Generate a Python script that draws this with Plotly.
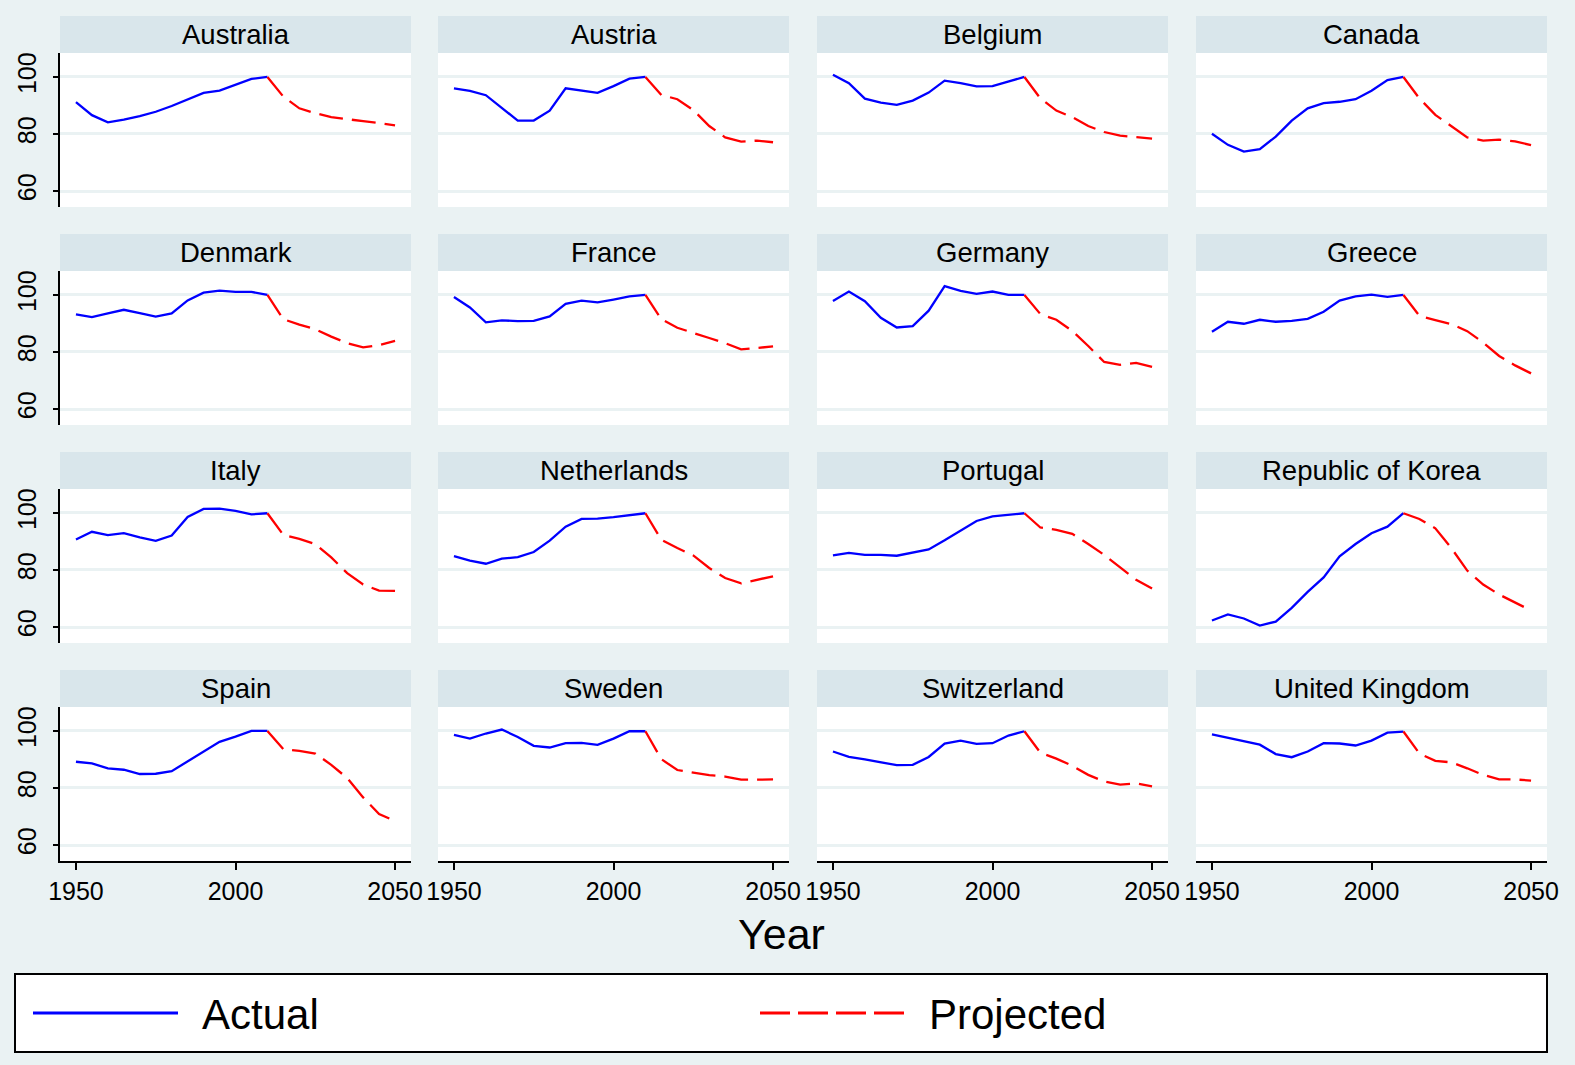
import plotly.graph_objects as go

W, H = 1575, 1065

countries = ["Australia", "Austria", "Belgium", "Canada",
             "Denmark", "France", "Germany", "Greece",
             "Italy", "Netherlands", "Portugal", "Republic of Korea",
             "Spain", "Sweden", "Switzerland", "United Kingdom"]

years_actual = [1950, 1955, 1960, 1965, 1970, 1975, 1980, 1985, 1990, 1995, 2000, 2005, 2010]
years_proj = [2010, 2015, 2020, 2025, 2030, 2035, 2040, 2045, 2050]

australia_actual = [91.2, 86.6, 84.1, 85.0, 86.3, 87.8, 89.8, 92.1, 94.4, 95.2, 97.3, 99.3, 100.0]
australia_proj = [100.0, 93.1, 89.0, 87.3, 85.9, 85.3, 84.5, 83.8, 83.0]
austria_actual = [96.0, 95.1, 93.6, 89.0, 84.7, 84.7, 88.2, 96.0, 95.2, 94.4, 96.8, 99.4, 100.0]
austria_proj = [100.0, 93.7, 92.2, 88.4, 82.8, 78.8, 77.3, 77.7, 77.1]
belgium_actual = [100.8, 97.8, 92.4, 91.0, 90.2, 91.7, 94.5, 98.7, 97.8, 96.7, 96.8, 98.4, 100.0]
belgium_proj = [100.0, 92.5, 88.2, 85.9, 82.8, 80.7, 79.4, 78.8, 78.4]
canada_actual = [80.1, 76.2, 73.8, 74.7, 79.1, 84.7, 89.0, 90.8, 91.3, 92.2, 95.2, 98.9, 100.0]
canada_proj = [100.0, 92.5, 86.7, 82.6, 78.8, 77.7, 78.0, 77.4, 76.1]
denmark_actual = [93.2, 92.2, 93.5, 94.8, 93.6, 92.4, 93.5, 98.1, 100.8, 101.5, 101.1, 101.1, 100.0]
denmark_proj = [100.0, 91.5, 89.6, 88.0, 85.4, 83.1, 81.6, 82.4, 83.9]
france_actual = [99.3, 95.6, 90.4, 91.1, 90.8, 90.9, 92.5, 96.9, 98.0, 97.4, 98.4, 99.5, 100.0]
france_proj = [100.0, 91.5, 88.5, 86.8, 84.9, 83.1, 80.9, 81.4, 82.0]
germany_actual = [97.9, 101.2, 97.8, 92.0, 88.6, 89.1, 94.5, 103.1, 101.4, 100.4, 101.2, 100.0, 100.0]
germany_proj = [100.0, 93.3, 91.3, 87.4, 82.1, 76.5, 75.5, 76.2, 74.8]
greece_actual = [87.1, 90.6, 89.9, 91.3, 90.6, 90.9, 91.6, 94.1, 98.0, 99.5, 100.1, 99.3, 100.0]
greece_proj = [100.0, 92.7, 91.2, 89.8, 87.3, 83.3, 78.6, 75.3, 72.5]
italy_actual = [90.7, 93.4, 92.2, 92.9, 91.4, 90.2, 92.1, 98.6, 101.4, 101.5, 100.7, 99.5, 99.9]
italy_proj = [99.9, 92.3, 90.9, 89.1, 84.4, 78.9, 74.9, 72.8, 72.7]
netherlands_actual = [84.9, 83.3, 82.2, 84.0, 84.5, 86.3, 90.3, 95.2, 97.9, 98.0, 98.5, 99.3, 99.9]
netherlands_proj = [99.9, 90.6, 87.7, 85.1, 80.7, 77.2, 75.3, 76.6, 77.8]
portugal_actual = [85.1, 86.0, 85.3, 85.3, 85.0, 86.1, 87.2, 90.4, 93.9, 97.2, 98.8, 99.4, 99.9]
portugal_proj = [99.9, 94.9, 94.1, 92.7, 89.1, 85.3, 80.9, 76.6, 73.5]
korea_actual = [62.3, 64.4, 63.0, 60.5, 61.9, 66.7, 72.3, 77.4, 84.8, 89.1, 92.9, 95.2, 99.9]
korea_proj = [99.9, 97.9, 94.6, 87.7, 79.8, 74.9, 71.4, 68.5, 65.8]
spain_actual = [89.2, 88.6, 86.9, 86.4, 84.9, 85.0, 85.9, 89.3, 92.7, 96.2, 98.0, 100.0, 100.0]
spain_proj = [100.0, 93.6, 93.0, 92.1, 88.1, 83.5, 76.7, 70.9, 68.4]
sweden_actual = [98.6, 97.3, 99.1, 100.5, 97.9, 94.8, 94.2, 95.7, 95.8, 95.1, 97.3, 99.9, 99.9]
sweden_proj = [99.9, 90.1, 86.3, 85.5, 84.5, 84.0, 82.9, 82.9, 83.0]
switzerland_actual = [92.8, 90.9, 90.0, 89.0, 88.0, 88.1, 90.9, 95.6, 96.6, 95.5, 95.7, 98.4, 99.9]
switzerland_proj = [99.9, 92.4, 90.3, 87.8, 84.6, 82.3, 81.2, 81.6, 80.6]
uk_actual = [98.8, 97.6, 96.2, 95.2, 91.9, 90.8, 92.8, 95.7, 95.6, 94.9, 96.6, 99.4, 99.8]
uk_proj = [99.8, 92.1, 89.5, 89.0, 86.9, 84.6, 83.0, 83.0, 82.6]

actual_series = [australia_actual, austria_actual, belgium_actual, canada_actual,
                 denmark_actual, france_actual, germany_actual, greece_actual,
                 italy_actual, netherlands_actual, portugal_actual, korea_actual,
                 spain_actual, sweden_actual, switzerland_actual, uk_actual]
proj_series = [australia_proj, austria_proj, belgium_proj, canada_proj,
               denmark_proj, france_proj, germany_proj, greece_proj,
               italy_proj, netherlands_proj, portugal_proj, korea_proj,
               spain_proj, sweden_proj, switzerland_proj, uk_proj]

y_ticks = [60, 80, 100]
x_ticks = [1950, 2000, 2050]
x_tick_labels = ["1950", "2000", "2050"]

FONT = "Liberation Sans, Arial, sans-serif"
BG = "#EAF2F3"
STRIP = "#D9E6EB"
GRID = "#EAF2F3"


def px(x):
    return x / W


def py(y):
    return 1 - y / H


col_left = [60, 438, 817, 1196]
col_w = 351
row_top = [53, 271, 489, 707]
row_h = 154
strip_h = 37

fig = go.Figure()
layout = dict(
    width=W, height=H,
    margin=dict(l=0, r=0, t=0, b=0, pad=0, autoexpand=False),
    paper_bgcolor=BG, plot_bgcolor="white",
    showlegend=False,
    font=dict(family=FONT, color="black"),
)
shapes = []
annotations = []

for i, name in enumerate(countries):
    r, c = divmod(i, 4)
    n = i + 1
    xa = "x" if n == 1 else f"x{n}"
    ya = "y" if n == 1 else f"y{n}"
    fig.add_trace(go.Scatter(x=years_actual, y=actual_series[i], mode="lines",
                             line=dict(color="#0000FF", width=2.3),
                             xaxis=xa, yaxis=ya, name="Actual"))
    fig.add_trace(go.Scatter(x=years_proj, y=proj_series[i], mode="lines",
                             line=dict(color="#FF0000", width=2.3, dash="24px,9px"),
                             xaxis=xa, yaxis=ya, name="Projected"))
    x0, x1 = col_left[c], col_left[c] + col_w
    y0, y1 = row_top[r], row_top[r] + row_h
    bottom = (r == 3)
    left = (c == 0)
    layout["xaxis" if n == 1 else f"xaxis{n}"] = dict(
        domain=[px(x0), px(x1)], anchor=ya, range=[1945, 2055],
        showgrid=False, zeroline=False, automargin=False,
        showline=bottom, linecolor="black", linewidth=1.5,
        ticks="outside" if bottom else "", ticklen=7, tickwidth=1.5, tickcolor="black",
        tickvals=x_ticks, ticktext=x_tick_labels,
        showticklabels=bottom, tickfont=dict(size=25, family=FONT, color="black"),
        fixedrange=True,
    )
    layout["yaxis" if n == 1 else f"yaxis{n}"] = dict(
        domain=[py(y1), py(y0)], anchor=xa, range=[54.4, 108.4],
        showgrid=True, gridcolor=GRID, gridwidth=2.5, zeroline=False, automargin=False,
        showline=left, linecolor="black", linewidth=1.5,
        ticks="outside" if left else "", ticklen=5, tickwidth=1.5, tickcolor="black",
        tickvals=y_ticks, showticklabels=left, tickangle=-90,
        tickfont=dict(size=25, family=FONT, color="black"),
        ticklabelstandoff=7,
        fixedrange=True,
    )
    # strip header
    shapes.append(dict(type="rect", xref="paper", yref="paper",
                       x0=px(x0), x1=px(x1), y0=py(y0), y1=py(y0 - strip_h),
                       fillcolor=STRIP, line=dict(width=0), layer="below"))
    annotations.append(dict(text=name, xref="paper", yref="paper",
                            x=px((x0 + x1) / 2), y=py(y0 - strip_h / 2),
                            xanchor="center", yanchor="middle", showarrow=False,
                            font=dict(size=27.5, family=FONT, color="black")))

# x-axis title
annotations.append(dict(text="Year", xref="paper", yref="paper",
                        x=px(781), y=py(934), xanchor="center", yanchor="middle",
                        showarrow=False, font=dict(size=43, family=FONT, color="black")))

# legend box
shapes.append(dict(type="rect", xref="paper", yref="paper",
                   x0=px(15), x1=px(1547), y0=py(1052), y1=py(974),
                   fillcolor="white", line=dict(color="black", width=2)))
shapes.append(dict(type="line", xref="paper", yref="paper",
                   x0=px(33), x1=px(178), y0=py(1013), y1=py(1013),
                   line=dict(color="#0000FF", width=3)))
shapes.append(dict(type="line", xref="paper", yref="paper",
                   x0=px(760), x1=px(905), y0=py(1013), y1=py(1013),
                   line=dict(color="#FF0000", width=3, dash="30px,8px")))
annotations.append(dict(text="Actual", xref="paper", yref="paper",
                        x=px(200), y=py(1014), xanchor="left", yanchor="middle",
                        showarrow=False, font=dict(size=42, family=FONT, color="black")))
annotations.append(dict(text="Projected", xref="paper", yref="paper",
                        x=px(927), y=py(1014), xanchor="left", yanchor="middle",
                        showarrow=False, font=dict(size=42, family=FONT, color="black")))

layout["shapes"] = shapes
layout["annotations"] = annotations
fig.update_layout(**layout)

fig.write_html("out.html", config={"displayModeBar": False},
               post_script="document.body.style.margin='0';document.body.style.padding='0';"
                           "document.body.style.overflow='hidden';"
                           "document.documentElement.style.overflow='hidden';")
